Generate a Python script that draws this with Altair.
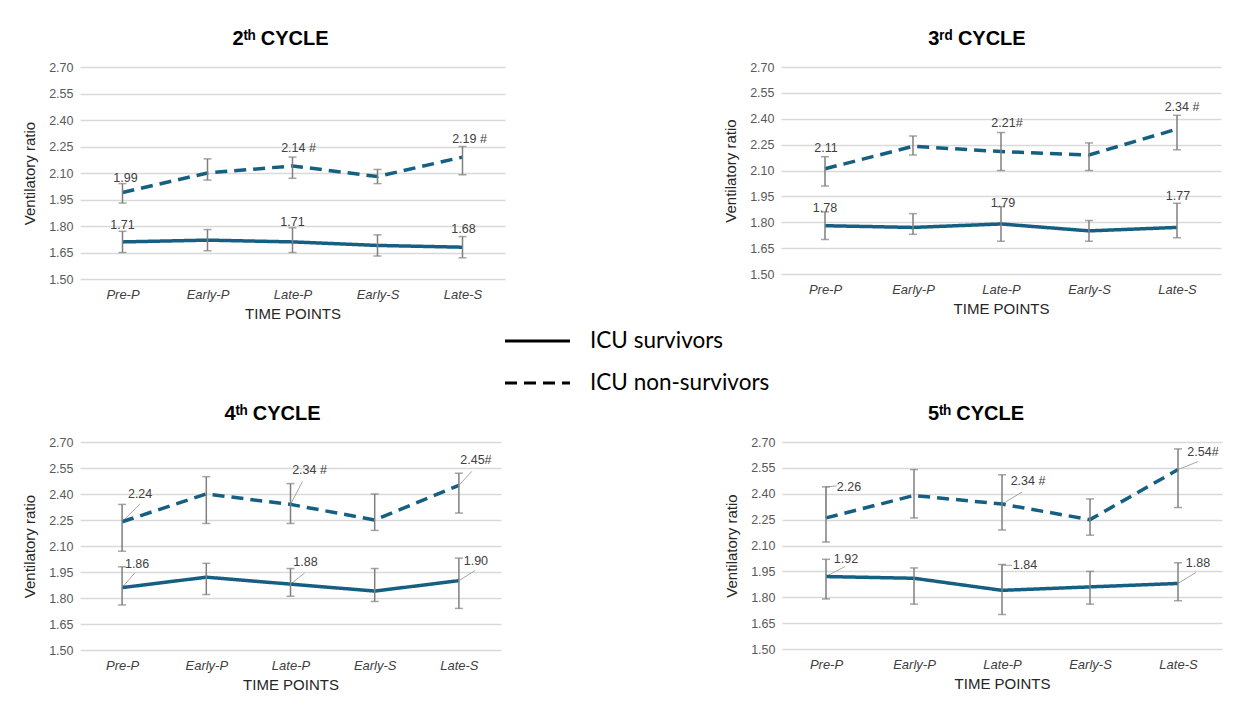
import altair as alt
import pandas as pd

TIME_POINTS = ["Pre-P", "Early-P", "Late-P", "Early-S", "Late-S"]
SERIES = ["ICU survivors", "ICU non-survivors"]
CYCLE_TITLES = ["2ᵗʰ CYCLE", "3ʳᵈ CYCLE", "4ᵗʰ CYCLE", "5ᵗʰ CYCLE"]
Y_TICKS = [1.50, 1.65, 1.80, 1.95, 2.10, 2.25, 2.40, 2.55, 2.70]

# ---- cycle 2 ----
c2_surv = [1.71, 1.72, 1.71, 1.69, 1.68]
c2_surv_lo = [1.65, 1.66, 1.65, 1.63, 1.62]
c2_surv_hi = [1.77, 1.78, 1.79, 1.75, 1.74]
c2_non = [1.99, 2.10, 2.14, 2.08, 2.19]
c2_non_lo = [1.93, 2.06, 2.07, 2.04, 2.09]
c2_non_hi = [2.04, 2.18, 2.19, 2.12, 2.25]
# ---- cycle 3 ----
c3_surv = [1.78, 1.77, 1.79, 1.75, 1.77]
c3_surv_lo = [1.70, 1.73, 1.69, 1.69, 1.71]
c3_surv_hi = [1.86, 1.85, 1.89, 1.81, 1.91]
c3_non = [2.11, 2.24, 2.21, 2.19, 2.34]
c3_non_lo = [2.01, 2.19, 2.10, 2.10, 2.22]
c3_non_hi = [2.18, 2.30, 2.32, 2.26, 2.42]
# ---- cycle 4 ----
c4_surv = [1.86, 1.92, 1.88, 1.84, 1.90]
c4_surv_lo = [1.76, 1.82, 1.81, 1.78, 1.74]
c4_surv_hi = [1.98, 2.00, 1.97, 1.97, 2.03]
c4_non = [2.24, 2.40, 2.34, 2.25, 2.45]
c4_non_lo = [2.07, 2.23, 2.23, 2.19, 2.29]
c4_non_hi = [2.34, 2.50, 2.46, 2.40, 2.52]
# ---- cycle 5 ----
c5_surv = [1.92, 1.91, 1.84, 1.86, 1.88]
c5_surv_lo = [1.79, 1.76, 1.70, 1.76, 1.78]
c5_surv_hi = [2.02, 1.97, 1.99, 1.95, 2.00]
c5_non = [2.26, 2.39, 2.34, 2.25, 2.54]
c5_non_lo = [2.12, 2.26, 2.19, 2.16, 2.32]
c5_non_hi = [2.44, 2.54, 2.51, 2.37, 2.66]

# labelled points (same time points in every panel) and significance marks
LABEL_IDX = [0, 2, 4]
c2_sig = [["", "", ""], ["", " #", " #"]]
c3_sig = [["", "", ""], ["", "#", " #"]]
c4_sig = [["", "", ""], ["", "  #", "#"]]
c5_sig = [["", "", ""], ["", " #", "#"]]

# ---- styling: label offsets (px from point) and leader lines (px) ----
c2_lab_off = [[(0, -17), (0, -20), (1, -18)], [(3, -14), (6, -18), (7, -18)]]
c3_lab_off = [[(0, -18), (2, -21), (1, -31)], [(1, -21), (6, -29), (5, -22)]]
c4_lab_off = [[(15, -24), (15, -22), (17, -20)], [(18, -28), (19, -34), (17, -25)]]
c5_lab_off = [[(20, -18), (23, -25), (20, -20)], [(23, -31), (26, -23), (25, -18)]]
c2_leaders = [[[], [], []], [[], [], []]]
c3_leaders = [[[], [], []], [[], [], []]]
c4_leaders = [[[(0, 0, 13, -15)], [(0, 0, 14, -11)], [(0, 0, 16, -10)]],
              [[(0, 0, 18, -18)], [(0, 0, 12, -23)], [(0, 0, 13, -14)]]]
c5_leaders = [[[(0, 0, 19, -10)], [(0, 0, 0, -25), (0, -25, 10, -25)], [(0, 0, 18, -11)]],
              [[(0, 0, 0, -31), (0, -31, 11, -32)], [(0, 0, 20, -12)], [(0, 0, 20, -8)]]]

TEAL = "#156082"
ERR = "#7f7f7f"
GRID = "#d9d9d9"
LEADER = "#a6a6a6"
FONT = "Liberation Sans"

PANELS = [
    dict(title=CYCLE_TITLES[0], series=[(c2_surv, c2_surv_lo, c2_surv_hi), (c2_non, c2_non_lo, c2_non_hi)],
         sig=c2_sig, off=c2_lab_off, lead=c2_leaders, w=425, h=212, tdx=-12),
    dict(title=CYCLE_TITLES[1], series=[(c3_surv, c3_surv_lo, c3_surv_hi), (c3_non, c3_non_lo, c3_non_hi)],
         sig=c3_sig, off=c3_lab_off, lead=c3_leaders, w=440, h=207, tdx=-24),
    dict(title=CYCLE_TITLES[2], series=[(c4_surv, c4_surv_lo, c4_surv_hi), (c4_non, c4_non_lo, c4_non_hi)],
         sig=c4_sig, off=c4_lab_off, lead=c4_leaders, w=421, h=208, tdx=-18),
    dict(title=CYCLE_TITLES[3], series=[(c5_surv, c5_surv_lo, c5_surv_hi), (c5_non, c5_non_lo, c5_non_hi)],
         sig=c5_sig, off=c5_lab_off, lead=c5_leaders, w=440, h=207, tdx=-26),
]

label_expr = "[" + ",".join("'%s'" % t for t in TIME_POINTS) + "][datum.value]"
NO_BORDER = alt.ViewBackground(stroke="transparent", strokeWidth=0, strokeOpacity=0)


def make_panel(p):
    w, h = p["w"], p["h"]
    px_x = w / 5.0
    px_y = h / 1.2
    rows, labs, leads = [], [], []
    for s_i, s in enumerate(SERIES):
        vals, lo, hi = p["series"][s_i]
        for i in range(len(TIME_POINTS)):
            rows.append(dict(idx=i, series=s, value=vals[i], lo=lo[i], hi=hi[i]))
        for j, i in enumerate(LABEL_IDX):
            dx, dy = p["off"][s_i][j]
            labs.append(dict(idx=i + dx / px_x, value=vals[i] - dy / px_y,
                             text="%.2f%s" % (vals[i], p["sig"][s_i][j])))
            for (x0, y0, x1, y1) in p["lead"][s_i][j]:
                leads.append(dict(idx=i + x0 / px_x, value=vals[i] - y0 / px_y,
                                  bx=i + x1 / px_x, by=vals[i] - y1 / px_y))
    df = pd.DataFrame(rows)
    xs = alt.Scale(domain=[-0.5, 4.5], nice=False, zero=False)
    ys = alt.Scale(domain=[1.5, 2.7], nice=False, zero=False)

    x_axis = alt.Axis(values=list(range(5)), labelExpr=label_expr, title="TIME POINTS",
                      grid=False, domain=False, ticks=False,
                      labelFont=FONT, labelFontSize=13, labelFontStyle="italic",
                      labelColor="#404040", labelPadding=9,
                      titleFont=FONT, titleFontSize=15, titleFontWeight="normal",
                      titleColor="#262626", titlePadding=5)
    y_axis = alt.Axis(values=Y_TICKS, format=".2f", title="Ventilatory ratio",
                      grid=True, gridColor=GRID, gridWidth=1.4, domain=False, ticks=False,
                      labelFont=FONT, labelFontSize=12.5, labelColor="#595959", labelPadding=7,
                      titleFont=FONT, titleFontSize=15, titleFontWeight="normal",
                      titleColor="#262626", titlePadding=11)
    X = alt.X("idx:Q", scale=xs, axis=x_axis)

    def Y(f):
        return alt.Y(f, scale=ys, axis=y_axis)

    base = alt.Chart(df)
    lines = base.mark_line(color=TEAL, strokeWidth=3.5).encode(
        x=X, y=Y("value:Q"),
        detail="series:N",
        strokeDash=alt.StrokeDash("series:N", scale=alt.Scale(domain=SERIES, range=[[1, 0], [12, 7]]),
                                  legend=None),
    )
    bars = base.mark_rule(color=ERR, strokeWidth=1.5).encode(x=X, y=Y("lo:Q"), y2="hi:Q")
    cap_lo = base.mark_tick(color=ERR, orient="horizontal", size=8, thickness=1.5).encode(
        x=X, y=Y("lo:Q"))
    cap_hi = base.mark_tick(color=ERR, orient="horizontal", size=8, thickness=1.5).encode(
        x=X, y=Y("hi:Q"))
    labels = alt.Chart(pd.DataFrame(labs)).mark_text(
        font=FONT, fontSize=12.5, color="#404040", align="center", baseline="middle").encode(
        x=X, y=Y("value:Q"), text="text:N")
    layers = [lines, bars, cap_lo, cap_hi, labels]
    if leads:
        layers.insert(0, alt.Chart(pd.DataFrame(leads)).mark_rule(color=LEADER, strokeWidth=1).encode(
            x=X, y=Y("value:Q"), x2="bx:Q", y2="by:Q"))
    return alt.layer(*layers).properties(
        width=w, height=h, view=NO_BORDER,
        title=alt.TitleParams(text=p["title"], font=FONT, fontSize=20, fontWeight="bold",
                              color="black", anchor="middle", dx=p["tdx"], offset=12),
    )


panels = [make_panel(p) for p in PANELS]

legend_df = pd.DataFrame({"series": SERIES, "row": [0, 1]})
ly = alt.Y("row:Q", scale=alt.Scale(domain=[-0.476, 1.5], reverse=True, nice=False, zero=False), axis=None)
leg_lines = alt.Chart(legend_df).mark_rule(color="black", strokeWidth=3).encode(
    x=alt.value(425), x2=alt.value(490), y=ly,
    strokeDash=alt.StrokeDash("series:N", scale=alt.Scale(domain=SERIES, range=[[1, 0], [9, 5]]), legend=None),
)
leg_text = alt.Chart(legend_df).mark_text(font="Lato", fontSize=22.5, color="black", align="left",
                                          baseline="middle").encode(
    x=alt.value(510), y=ly, text="series:N")
legend_chart = alt.layer(leg_lines, leg_text).properties(width=720, height=83, view=NO_BORDER)

top = alt.hconcat(panels[0], panels[1], spacing=218)
bottom = alt.hconcat(panels[2], panels[3], spacing=223)
chart = alt.vconcat(top, legend_chart, bottom, spacing=0).properties(
    padding={"left": 14, "top": 21, "right": 2, "bottom": 2}
).configure_view(stroke="transparent", strokeWidth=0).configure(background="white")

chart.save("out.html", embed_options={"renderer": "svg", "actions": False})
